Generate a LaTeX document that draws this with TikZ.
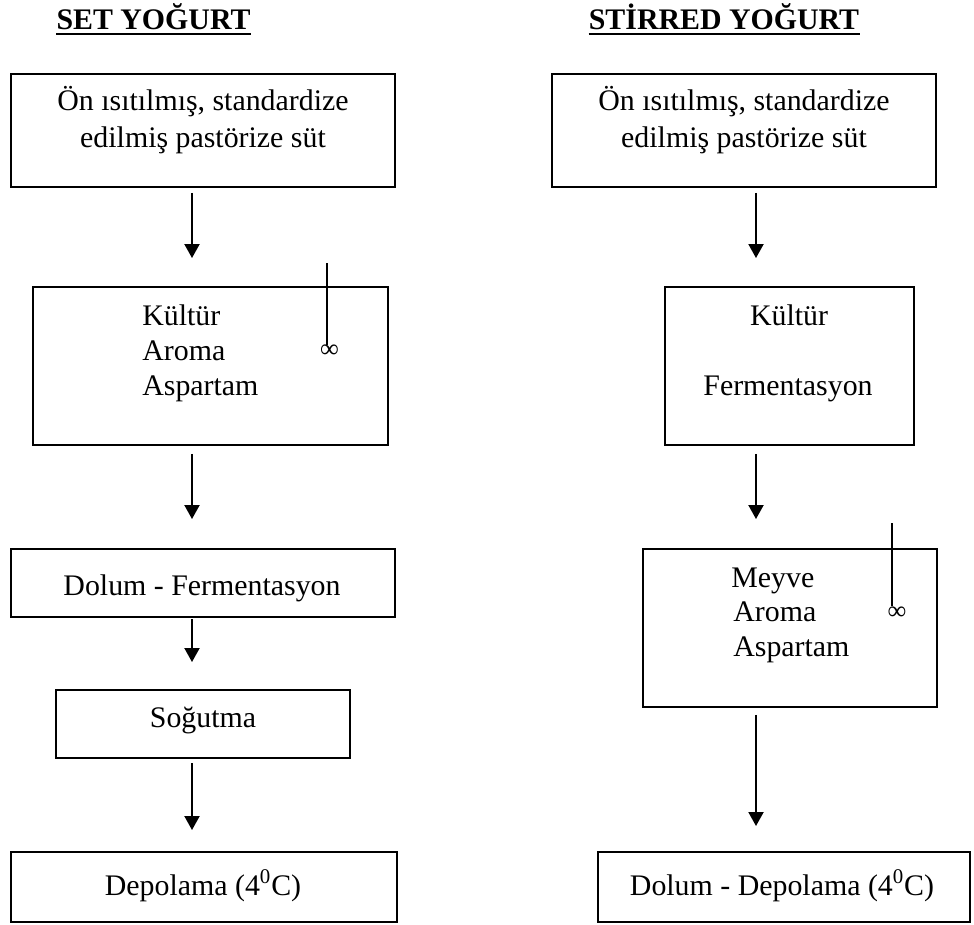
\documentclass[tikz,border=0pt]{standalone}
\usepackage{fontspec}
\setmainfont{Liberation Serif}
\usetikzlibrary{arrows.meta}
\begin{document}
\begin{tikzpicture}[x=0.02cm,y=-0.02cm]
\fontsize{17}{20}\selectfont
  \tikzstyle{box}=[draw,line width=0.04cm,inner sep=0pt]
  \tikzstyle{txt}=[inner sep=0pt,anchor=base]
  \tikzstyle{txtLeft}=[inner sep=0pt,anchor=base west]
  \tikzstyle{title}=[inner sep=0pt,anchor=base,font=\bfseries]
  \tikzstyle{uline}=[line width=0.05cm]
  \tikzstyle{arr}=[-{Triangle[width=0.3cm,length=0.28cm]},line width=0.04cm]
  \tikzstyle{mix}=[inner sep=0pt,font=\fontsize{15}{15}\selectfont]
  \tikzstyle{stir}=[line width=0.04cm]

  \useasboundingbox (0,0) rectangle (974,924);

  \begin{scope}
   % set yogurt
   \node[title](setTitle) at (153.5,29) {SET YOĞURT};
   \draw[uline] ([yshift=-0.1cm]setTitle.base west) -- ([yshift=-0.1cm]setTitle.base east);

   \node[box,minimum width=7.68cm,minimum height=2.26cm](setMilk) at (203,130.5) {};
   \node[txt](setMilkA) at (203,110) {Ön ısıtılmış, standardize};
   \node[txt](setMilkB) at (203,147) {edilmiş pastörize süt};

   \node[box,minimum width=7.1cm,minimum height=3.16cm](setAdd) at (210.5,366) {};
   \node[txtLeft](setKultur) at (142,325) {Kültür};
   \node[txtLeft](setAroma) at (142,360) {Aroma};
   \node[txtLeft](setAspartam) at (142,395) {Aspartam};
   \node[mix](setMix) at (329.5,351.5) {∞};
   \coordinate (setStir) at (327,263);
   \draw[stir] (setStir) -- (setStir |- setMix.north);

   \node[box,minimum width=7.68cm,minimum height=1.36cm](setFill) at (203,583) {};
   \node[txt](setFillText) at (202,595) {Dolum - Fermentasyon};

   \node[box,minimum width=5.88cm,minimum height=1.36cm](setCool) at (203,724) {};
   \node[txt](setCoolText) at (203,727) {Soğutma};

   \node[box,minimum width=7.72cm,minimum height=1.4cm](setStore) at (204,887) {};
   \node[txt](setStoreText) at (203,895) {Depolama (4\textsuperscript{0}C)};

   \coordinate (setArr) at (192,0);
   \draw[arr,shorten <=0.1cm,shorten >=0.56cm] (setArr |- setMilk.south) -- (setArr |- setAdd.north);
   \draw[arr,shorten <=0.16cm,shorten >=0.58cm] (setArr |- setAdd.south) -- (setArr |- setFill.north);
   \draw[arr,shorten <=0.02cm,shorten >=0.54cm] (setArr |- setFill.south) -- (setArr |- setCool.north);
   \draw[arr,shorten <=0.08cm,shorten >=0.42cm] (setArr |- setCool.south) -- (setArr |- setStore.north);

   % stirred yogurt
   \node[title](stirTitle) at (724,29) {STİRRED YOĞURT};
   \draw[uline] ([yshift=-0.1cm]stirTitle.base west) -- ([yshift=-0.1cm]stirTitle.base east);

   \node[box,minimum width=7.68cm,minimum height=2.26cm](stirMilk) at (744,130.5) {};
   \node[txt](stirMilkA) at (744,110) {Ön ısıtılmış, standardize};
   \node[txt](stirMilkB) at (744,147) {edilmiş pastörize süt};

   \node[box,minimum width=4.98cm,minimum height=3.16cm](stirFerm) at (789.5,366) {};
   \node[txt](stirKultur) at (789,325) {Kültür};
   \node[txt](stirFermText) at (788,395) {Fermentasyon};

   \node[box,minimum width=5.88cm,minimum height=3.16cm](stirAdd) at (790,628) {};
   \node[txtLeft](stirMeyve) at (731,587) {Meyve};
   \node[txtLeft](stirAroma) at (733,621) {Aroma};
   \node[txtLeft](stirAspartam) at (733,656) {Aspartam};
   \node[mix](stirMix) at (897,613) {∞};
   \coordinate (stirStir) at (892,523);
   \draw[stir] (stirStir) -- (stirStir |- stirMix.north);

   \node[box,minimum width=7.44cm,minimum height=1.4cm](stirStore) at (784,887) {};
   \node[txt](stirStoreText) at (782,895) {Dolum - Depolama (4\textsuperscript{0}C)};

   \coordinate (stirArr) at (756,0);
   \draw[arr,shorten <=0.1cm,shorten >=0.56cm] (stirArr |- stirMilk.south) -- (stirArr |- stirFerm.north);
   \draw[arr,shorten <=0.16cm,shorten >=0.58cm] (stirArr |- stirFerm.south) -- (stirArr |- stirAdd.north);
   \draw[arr,shorten <=0.14cm,shorten >=0.5cm] (stirArr |- stirAdd.south) -- (stirArr |- stirStore.north);
  \end{scope}

\end{tikzpicture}
\end{document}
